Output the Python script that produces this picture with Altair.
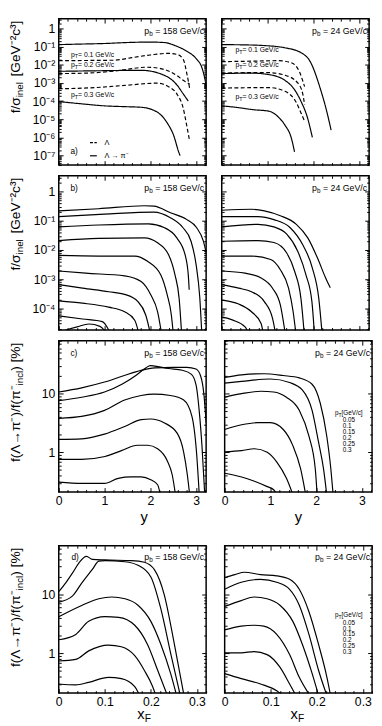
import altair as alt
import pandas as pd

FONT = "Liberation Sans"

# ---------------- a) f/sigma_inel, p_b = 158 GeV/c (S: Lambda->pi-, D: Lambda) ----
A158_S1_X = [0, 0.5, 1.0, 1.5, 2.0, 2.3, 2.58, 2.8, 3.01, 3.12, 3.19, 3.23]
A158_S1_F = [0.13, 0.14, 0.15, 0.17, 0.18, 0.17, 0.105, 0.056, 0.021, 0.0079, 0.0018, 5e-4]
A158_S2_X = [0, 0.8, 1.8, 2.3, 2.58, 2.72, 2.83]
A158_S2_F = [0.0044, 0.0047, 0.005, 0.0027, 7.9e-4, 2.5e-4, 1e-4]
A158_S3_X = [0, 0.5, 1.0, 1.4, 1.8, 2.15, 2.37, 2.51, 2.62, 2.65]
A158_S3_F = [9.5e-5, 7.1e-5, 5.5e-5, 5e-5, 4.6e-5, 2.5e-5, 6.3e-6, 1.3e-6, 1.6e-7, 1e-7]
A158_D1_X = [0, 0.6, 1.2, 1.6, 2.0, 2.37, 2.58, 2.72, 2.8, 2.86]
A158_D1_F = [0.017, 0.0174, 0.018, 0.025, 0.035, 0.043, 0.038, 0.02, 0.0032, 5e-4]
A158_D2_X = [0, 0.6, 1.2, 1.94, 2.3, 2.58, 2.72, 2.86]
A158_D2_F = [0.0033, 0.0035, 0.0045, 0.0074, 0.0056, 0.0026, 0.0014, 8.9e-4]
A158_D3_X = [0, 0.8, 1.5, 2.15, 2.4, 2.58, 2.72, 2.8, 2.86]
A158_D3_F = [4.8e-4, 5.6e-4, 7.6e-4, 9.8e-4, 6.3e-4, 2.5e-4, 4e-5, 4e-6, 6.3e-7]

# ---------------- a) p_b = 24 GeV/c ----
A24_S1_X = [0, 0.5, 0.89, 1.38, 1.73, 1.94, 2.15, 2.29, 2.39]
A24_S1_F = [0.13, 0.126, 0.117, 0.087, 0.047, 0.014, 5.2e-4, 3e-5, 2.5e-6]
A24_S2_X = [0, 0.65, 1.03, 1.38, 1.59, 1.73, 1.87, 1.98]
A24_S2_F = [0.0033, 0.0035, 0.0029, 0.0014, 4.3e-4, 1e-4, 1.3e-5, 1e-6]
A24_S3_X = [0, 0.33, 0.68, 1.03, 1.24, 1.38, 1.52, 1.59]
A24_S3_F = [5.5e-5, 4.5e-5, 3.4e-5, 2.8e-5, 1.3e-5, 4.8e-6, 9.3e-7, 1.6e-7]
A24_D1_X = [0, 0.7, 1.24, 1.52, 1.7, 1.77, 1.81]
A24_D1_F = [0.015, 0.016, 0.017, 0.013, 0.004, 0.0013, 6.3e-4]
A24_D2_X = [0, 0.6, 1.03, 1.38, 1.66, 1.77, 1.81]
A24_D2_F = [0.0035, 0.0037, 0.0037, 0.0027, 0.001, 2.5e-4, 6.3e-5]
A24_D3_X = [0, 0.6, 1.03, 1.38, 1.63, 1.74, 1.81]
A24_D3_F = [5.2e-4, 5.5e-4, 5.6e-4, 3.5e-4, 8.3e-5, 2e-5, 7.9e-6]

# ---------------- b) f/sigma_inel per pT, 158 GeV/c ----
B158_1_X = [0, 0.87, 1.87, 2.08, 2.44, 2.8, 3.01, 3.16, 3.23]
B158_1_F = [0.22, 0.26, 0.33, 0.32, 0.19, 0.11, 0.059, 0.02, 0.0069]
B158_2_X = [0, 1.0, 2.08, 2.43, 2.71, 2.89, 3.0, 3.08, 3.13]
B158_2_F = [0.14, 0.17, 0.2, 0.13, 0.059, 0.02, 0.0032, 2.5e-4, 1e-5]
B158_3_X = [0, 0.87, 1.96, 2.3, 2.58, 2.76, 2.83, 2.85]
B158_3_F = [0.062, 0.072, 0.079, 0.059, 0.026, 0.0069, 0.0014, 4.3e-4]
B158_4_X = [0, 0.87, 1.87, 2.15, 2.4, 2.54, 2.63, 2.69]
B158_4_F = [0.021, 0.025, 0.026, 0.018, 0.0069, 0.0014, 2.2e-4, 1e-5]
B158_5_X = [0, 0.87, 1.66, 1.94, 2.23, 2.37, 2.46, 2.51]
B158_5_F = [0.0065, 0.0062, 0.0062, 0.0041, 0.0014, 2.9e-4, 5.9e-5, 1e-5]
B158_6_X = [0, 0.59, 1.44, 1.8, 2.01, 2.16, 2.26]
B158_6_F = [0.0019, 0.0016, 0.0013, 8.3e-4, 2.9e-4, 7.6e-5, 1e-5]
B158_7_X = [0, 0.52, 1.09, 1.44, 1.73, 1.9, 2.02]
B158_7_F = [6.5e-4, 4.9e-4, 3.7e-4, 3e-4, 1.7e-4, 5.9e-5, 1e-5]
B158_8_X = [0, 0.52, 1.09, 1.44, 1.66, 1.77]
B158_8_F = [1.8e-4, 1.5e-4, 1.1e-4, 7.6e-5, 3.9e-5, 1e-5]
B158_9_X = [0, 0.52, 0.95, 1.17]
B158_9_F = [5.5e-5, 4.3e-5, 3.5e-5, 1e-5]
B158_10_X = [0, 0.4, 0.66, 0.9, 1.08]
B158_10_F = [1.5e-5, 2.3e-5, 2.9e-5, 2.4e-5, 1.2e-5]

# ---------------- b) 24 GeV/c ----
B24_1_X = [0, 0.65, 0.93, 1.28, 1.63, 1.88, 2.09, 2.27, 2.37]
B24_1_F = [0.23, 0.25, 0.22, 0.15, 0.076, 0.026, 0.0054, 0.0011, 5.1e-4]
B24_2_X = [0, 0.79, 1.14, 1.49, 1.77, 1.98, 2.12, 2.2]
B24_2_F = [0.14, 0.14, 0.11, 0.059, 0.015, 0.0024, 2.2e-4, 1e-5]
B24_3_X = [0, 0.79, 1.14, 1.42, 1.66, 1.84, 1.97, 2.03]
B24_3_F = [0.062, 0.076, 0.062, 0.035, 0.0091, 0.0014, 1.7e-4, 1e-5]
B24_4_X = [0, 0.79, 1.14, 1.42, 1.59, 1.73, 1.81]
B24_4_F = [0.02, 0.021, 0.018, 0.0079, 0.0019, 2.2e-4, 1e-5]
B24_5_X = [0, 0.65, 1.07, 1.28, 1.46, 1.56, 1.63]
B24_5_F = [0.0062, 0.0062, 0.0047, 0.0021, 4.9e-4, 7.6e-5, 1e-5]
B24_6_X = [0, 0.51, 0.86, 1.11, 1.28, 1.4]
B24_6_F = [0.0019, 0.0016, 0.0011, 4.9e-4, 1.3e-4, 1e-5]
B24_7_X = [0, 0.37, 0.65, 0.93, 1.11, 1.19]
B24_7_F = [6.5e-4, 4.9e-4, 3.7e-4, 1.7e-4, 4.5e-5, 1e-5]
B24_8_X = [0, 0.37, 0.65, 0.86, 0.92]
B24_8_F = [1.9e-4, 1.4e-4, 7.6e-5, 3e-5, 1e-5]
B24_9_X = [0, 0.23, 0.51, 0.62]
B24_9_F = [5.1e-5, 4e-5, 2.3e-5, 1e-5]

# ---------------- c) ratio [%] vs y, 158 GeV/c ----
C158_1_X = [0, 0.5, 1.0, 1.4, 1.8, 2.1, 2.5, 2.8, 3.0, 3.1, 3.17, 3.22]
C158_1_R = [10.7, 12.6, 15.8, 20, 25, 27.5, 28.2, 28.2, 26.3, 20, 10, 3.2]
C158_2_X = [0, 0.5, 1.0, 1.4, 1.7, 1.9, 2.0, 2.1, 2.4, 2.7, 2.9, 3.0, 3.07, 3.13, 3.19]
C158_2_R = [7.6, 8.7, 10.7, 14.8, 20.9, 27.5, 30.2, 29.5, 26.9, 25.1, 21.4, 14.1, 5.0, 1.26, 0.19]
C158_3_X = [0, 0.5, 1.0, 1.44, 1.8, 2.08, 2.44, 2.73, 2.91, 3.01, 3.07]
C158_3_R = [3.8, 4.1, 5.2, 7.8, 9.3, 9.8, 9.3, 7.8, 4.1, 1.0, 0.19]
C158_4_X = [0, 0.5, 1.0, 1.44, 1.8, 2.01, 2.3, 2.59, 2.73, 2.81, 2.86]
C158_4_R = [1.66, 1.7, 2.04, 2.75, 3.6, 3.7, 3.2, 2.1, 1.0, 0.41, 0.19]
C158_5_X = [0, 0.5, 1.01, 1.37, 1.72, 1.94, 2.16, 2.37, 2.48, 2.55]
C158_5_R = [0.76, 0.76, 0.85, 1.07, 1.32, 1.32, 1.15, 0.72, 0.41, 0.19]
C158_6_X = [0, 0.5, 1.0, 1.3, 1.58, 1.8, 2.01, 2.16, 2.22]
C158_6_R = [0.31, 0.295, 0.295, 0.36, 0.38, 0.38, 0.34, 0.28, 0.19]

# ---------------- c) 24 GeV/c ----
C24_1_X = [0, 0.37, 0.86, 1.28, 1.63, 1.91, 2.09, 2.23, 2.32, 2.37]
C24_1_R = [19, 21, 21.9, 20.4, 18.6, 14.5, 6.8, 1.9, 0.52, 0.19]
C24_2_X = [0, 0.37, 1.0, 1.42, 1.7, 1.91, 2.05, 2.16, 2.23]
C24_2_R = [15.1, 16.2, 17.8, 15.5, 11.5, 5.2, 1.5, 0.52, 0.19]
C24_3_X = [0, 0.37, 0.79, 1.07, 1.35, 1.63, 1.84, 1.98, 2.02]
C24_3_R = [8.7, 10, 11, 10.7, 8.7, 5.2, 1.9, 0.52, 0.19]
C24_4_X = [0, 0.37, 0.72, 1.0, 1.28, 1.49, 1.66, 1.77]
C24_4_R = [2.45, 2.95, 3.2, 3.2, 2.45, 1.3, 0.52, 0.19]
C24_5_X = [0, 0.37, 0.65, 0.93, 1.14, 1.35, 1.49]
C24_5_R = [1.02, 1.07, 1.15, 1.0, 0.68, 0.36, 0.19]
C24_6_X = [0, 0.37, 0.65, 0.93, 1.07, 1.14]
C24_6_R = [0.44, 0.38, 0.32, 0.26, 0.23, 0.19]

# ---------------- d) ratio [%] vs xF, 158 GeV/c ----
D158_1_X = [0, 0.016, 0.03, 0.044, 0.06, 0.073, 0.1, 0.158, 0.186, 0.208, 0.229, 0.25, 0.272]
D158_1_R = [11.2, 16.2, 23.4, 34.7, 44.7, 39.8, 38.9, 38, 35.5, 26.3, 10, 1.58, 0.19]
D158_2_X = [0, 0.03, 0.051, 0.073, 0.087, 0.1, 0.144, 0.172, 0.2, 0.222, 0.243, 0.264]
D158_2_R = [7.4, 9.5, 16.2, 26.9, 37.2, 38, 36.3, 31.6, 20, 5.6, 1.0, 0.19]
D158_3_X = [0, 0.051, 0.087, 0.115, 0.144, 0.172, 0.2, 0.222, 0.243, 0.256]
D158_3_R = [4.2, 6.6, 8.5, 9.1, 8.5, 6.6, 3.5, 1.4, 0.45, 0.19]
D158_4_X = [0, 0.037, 0.065, 0.1, 0.13, 0.165, 0.193, 0.215, 0.236]
D158_4_R = [1.7, 2.1, 3.5, 4.2, 4.1, 3.0, 1.4, 0.51, 0.19]
D158_5_X = [0, 0.037, 0.065, 0.108, 0.136, 0.165, 0.186, 0.204, 0.211]
D158_5_R = [0.74, 0.79, 1.1, 1.38, 1.29, 0.91, 0.51, 0.27, 0.19]
D158_6_X = [0, 0.037, 0.065, 0.108, 0.136, 0.165, 0.176]
D158_6_R = [0.30, 0.29, 0.32, 0.39, 0.37, 0.27, 0.19]

# ---------------- d) 24 GeV/c ----
D24_1_X = [0, 0.022, 0.043, 0.078, 0.113, 0.141, 0.162, 0.183, 0.204, 0.222, 0.23]
D24_1_R = [19.5, 21.9, 24, 21.9, 20.9, 18.2, 12.3, 5.1, 1.4, 0.39, 0.19]
D24_2_X = [0, 0.036, 0.078, 0.113, 0.141, 0.162, 0.183, 0.204, 0.222]
D24_2_R = [12.3, 16.2, 18.2, 16.2, 12.3, 6.6, 2.1, 0.51, 0.19]
D24_3_X = [0, 0.036, 0.064, 0.092, 0.12, 0.148, 0.169, 0.19, 0.204]
D24_3_R = [6.3, 7.9, 9.1, 8.5, 6.6, 3.5, 1.4, 0.45, 0.19]
D24_4_X = [0, 0.036, 0.064, 0.085, 0.113, 0.141, 0.162, 0.185]
D24_4_R = [2.5, 2.9, 3.0, 2.9, 2.1, 0.95, 0.39, 0.19]
D24_5_X = [0, 0.036, 0.064, 0.092, 0.12, 0.141, 0.155]
D24_5_R = [1.02, 1.02, 1.07, 0.95, 0.58, 0.30, 0.19]
D24_6_X = [0, 0.036, 0.078, 0.113, 0.127]
D24_6_R = [0.45, 0.37, 0.30, 0.23, 0.19]

PT_VALUES = ["0.05", "0.1", "0.15", "0.2", "0.25", "0.3"]
PT_A_LABELS = [" = 0.1 GeV/c", " = 0.2 GeV/c", " = 0.3 GeV/c"]

# ---------------- layout constants ----------------
W = 151
HA, HB, HC, HD = 150, 158, 155, 151
XDOM_Y = [0, 3.22]
XDOM_F = [0, 0.32]
YDOM_A = [3e-8, 3.5]
YDOM_B = [1.8e-5, 3.5]
YDOM_C = [0.21, 80]
YDOM_D = [0.21, 68]
TMAJ, TMIN = 4.5, 2.5

AW = {" ": 278, "=": 584, ".": 278, "/": 278, "(": 333, ")": 333, "[": 278, "]": 278,
      "%": 889, "-": 333, "a": 556, "b": 556, "c": 500, "e": 556, "f": 278, "i": 222,
      "l": 222, "n": 556, "p": 556, "x": 500, "y": 500, "F": 611, "G": 778, "T": 611,
      "V": 667, "\u039b": 667, "\u03c0": 570, "\u03c3": 570, "\u2192": 1000, "\u207b": 500,
      "\u00b2": 333, "\u00b3": 333}


def tw(s, fs):
    return sum(AW.get(ch, 556) for ch in s) / 1000.0 * fs


def line_df(curves):
    rows = []
    for name, style, xs, fs in curves:
        for i, (x, f) in enumerate(zip(xs, fs)):
            rows.append({"x": x, "f": f, "c": name, "s": style, "o": i})
    return pd.DataFrame(rows)


def log_minor(dom):
    out = []
    for k in range(-9, 3):
        for m in range(2, 10):
            v = float(f"{m}e{k}")
            if dom[0] <= v <= dom[1]:
                out.append(v)
    return out


def lin_minor(step, dom, majors):
    out = []
    i = 1
    while True:
        v = round(i * step, 4)
        if v > dom[1] + 1e-9:
            break
        if all(abs(v - m) > 1e-6 for m in majors):
            out.append(v)
        i += 1
    return out


def ax(orient, values, major, **kw):
    size = TMAJ if major else TMIN
    base = dict(orient=orient, values=values, tickSize=size, offset=-size, domain=False,
                grid=False, ticks=True, tickColor="black", tickWidth=1, title=None)
    if "labels" not in kw:
        base["labels"] = False
    base.update(kw)
    return alt.Axis(**base)


def text_layer(rows, align):
    df = pd.DataFrame(rows, columns=["px", "py", "t", "fs", "ang"])
    return alt.Chart(df).mark_text(align=align, baseline="alphabetic", font=FONT,
                                   color="black").encode(
        x=alt.X("px:Q", scale=None, axis=None),
        y=alt.Y("py:Q", scale=None, axis=None),
        text=alt.Text("t:N"),
        size=alt.Size("fs:Q", scale=None, legend=None),
        angle=alt.Angle("ang:Q", scale=None, legend=None),
    )


def seg_layer(x1, x2, y, dash=None):
    df = pd.DataFrame({"a": [x1], "b": [x2], "c": [y]})
    kw = dict(color="black", strokeWidth=1.2)
    if dash:
        kw["strokeDash"] = dash
    return alt.Chart(df).mark_rule(**kw).encode(
        x=alt.X("a:Q", scale=None, axis=None), x2="b:Q",
        y=alt.Y("c:Q", scale=None, axis=None))


def pb_label(rows_r, text, yb=15.5):
    xr, fs, fsub = W - 2, 9, 6.5
    w3 = tw(text, fs)
    w2 = tw("b", fsub)
    rows_r += [(xr, yb, text, fs, 0), (xr - w3, yb + 2.2, "b", fsub, 0),
               (xr - w3 - w2, yb, "p", fs, 0)]


def pt_label(rows_l, x, yb, text, fs=7, fsub=5.5):
    w1 = tw("p", fs)
    w2 = tw("T", fsub)
    rows_l += [(x, yb, "p", fs, 0), (x + w1, yb + 1.8, "T", fsub, 0),
               (x + w1 + w2, yb, text, fs, 0)]


def y_title(rows_r, p1, p2, p3, xb=-40, ytop=2, fs=14, fsub=10):
    w3 = tw(p3, fs)
    w2 = tw(p2, fsub)
    rows_r += [(xb, ytop, p3, fs, 270), (xb + 3.5, ytop + w3, p2, fsub, 270),
               (xb, ytop + w3 + w2, p1, fs, 270)]


def xf_title(rows_l, cx, yb):
    w1 = tw("x", 15)
    w2 = tw("F", 10.5)
    x0 = cx - (w1 + w2) / 2
    rows_l += [(x0, yb, "x", 15, 0), (x0 + w1, yb + 2.8, "F", 10.5, 0)]


def pt_legend(rows_l, y0):
    pt_label(rows_l, 113, y0, " [GeV/c]", fs=6.5, fsub=5)
    for k, s in enumerate(PT_VALUES):
        rows_l.append((121, y0 + 7.5 + 6 * k, s, 6.5, 0))


LAB_EXP_POW = ("datum.value > 0.5 ? '1' : '10' + ['\u207b\u00b9','\u207b\u00b2','\u207b\u00b3',"
               "'\u207b\u2074','\u207b\u2075','\u207b\u2076','\u207b\u2077','\u207b\u2078']"
               "[round(-log(datum.value)/LN10) - 1]")
LAB_EXP_LIN = "datum.value > 5 ? '10' : '1'"


def panel(df, H, xdom, ydom, xmaj, xmin, ymaj, xlab, ylab, ylabexpr,
          rows_l, rows_r, rows_c, segs, dashed=False):
    xs = alt.Scale(domain=xdom, nice=False, zero=False)
    ys = alt.Scale(type="log", domain=ydom, nice=False)
    ymin = log_minor(ydom)
    xkw = dict(labels=True, labelFont=FONT, labelFontSize=12.5, labelColor="black",
               labelPadding=3, labelFlush=False, labelOverlap=False, format=".1~f") if xlab else {}
    ykw = dict(labels=True, labelFont=FONT, labelFontSize=12.5, labelColor="black",
               labelPadding=4, labelOverlap=False, labelExpr=ylabexpr) if ylab else {}
    extra = {}
    if dashed:
        extra["strokeDash"] = alt.StrokeDash(
            "s:N", scale=alt.Scale(domain=["solid", "dashed"], range=[[1, 0], [4, 2.5]]),
            legend=None)
    main = alt.Chart(df).mark_line(clip=True, color="black", strokeWidth=1.2,
                                   interpolate="monotone").encode(
        x=alt.X("x:Q", scale=xs, axis=ax("bottom", xmaj, True, **xkw)),
        y=alt.Y("f:Q", scale=ys, axis=ax("left", ymaj, True, **ykw)),
        detail="c:N", order="o:Q", **extra)

    def ghost(xo, yo, major, xv, yv):
        return alt.Chart(df).mark_line(opacity=0, clip=True).encode(
            x=alt.X("x:Q", scale=xs, axis=ax(xo, xv, major)),
            y=alt.Y("f:Q", scale=ys, axis=ax(yo, yv, major)),
            detail="c:N")

    layers = [main,
              ghost("top", "right", True, xmaj, ymaj),
              ghost("bottom", "left", False, xmin, ymin),
              ghost("top", "right", False, xmin, ymin)]
    for s in segs:
        layers.append(seg_layer(*s))
    if rows_l:
        layers.append(text_layer(rows_l, "left"))
    if rows_r:
        layers.append(text_layer(rows_r, "right"))
    if rows_c:
        layers.append(text_layer(rows_c, "center"))
    return alt.layer(*layers).resolve_axis(x="independent", y="independent").properties(
        width=W, height=H)


XMAJ_Y = [0, 1, 2, 3]
XMIN_Y = lin_minor(0.2, XDOM_Y, XMAJ_Y)
XMAJ_F = [0, 0.1, 0.2, 0.3]
XMIN_F = lin_minor(0.02, XDOM_F, XMAJ_F)
YMAJ_A = [1e-7, 1e-6, 1e-5, 1e-4, 1e-3, 1e-2, 1e-1, 1]
YMAJ_B = [1e-4, 1e-3, 1e-2, 1e-1, 1]
YMAJ_CD = [1, 10]

T_F1, T_F2, T_F3 = "f/\u03c3", "inel", " [GeV\u207b\u00b2c\u00b3]"
T_R1, T_R2, T_R3 = "f(\u039b\u2192\u03c0\u207b)/f(\u03c0\u207b", "incl", ") [%]"

# ---------------- row a ----------------
dfa1 = line_df([("s1", "solid", A158_S1_X, A158_S1_F), ("s2", "solid", A158_S2_X, A158_S2_F),
                ("s3", "solid", A158_S3_X, A158_S3_F), ("d1", "dashed", A158_D1_X, A158_D1_F),
                ("d2", "dashed", A158_D2_X, A158_D2_F), ("d3", "dashed", A158_D3_X, A158_D3_F)])
la, ra = [], []
pb_label(ra, " = 158 GeV/c")
for yb, t in zip([39, 50, 80.5], PT_A_LABELS):
    pt_label(la, 12.5, yb, t)
la += [(12, HA - 11.5, "a)", 8.5, 0), (47, HA - 20.5, "\u039b", 7.5, 0),
       (47, HA - 7, "\u039b \u2192 \u03c0\u207b", 7.5, 0)]
y_title(ra, T_F1, T_F2, T_F3)
pa1 = panel(dfa1, HA, XDOM_Y, YDOM_A, XMAJ_Y, XMIN_Y, YMAJ_A, False, True, LAB_EXP_POW,
            la, ra, [], [(32, 39, HA - 23, [3, 1.5]), (32, 39, HA - 9.5, None)], dashed=True)

dfa2 = line_df([("s1", "solid", A24_S1_X, A24_S1_F), ("s2", "solid", A24_S2_X, A24_S2_F),
                ("s3", "solid", A24_S3_X, A24_S3_F), ("d1", "dashed", A24_D1_X, A24_D1_F),
                ("d2", "dashed", A24_D2_X, A24_D2_F), ("d3", "dashed", A24_D3_X, A24_D3_F)])
la, ra = [], []
pb_label(ra, " = 24 GeV/c")
for yb, t in zip([34, 50, 82.5], PT_A_LABELS):
    pt_label(la, 14, yb, t)
pa2 = panel(dfa2, HA, XDOM_Y, YDOM_A, XMAJ_Y, XMIN_Y, YMAJ_A, False, False, LAB_EXP_POW,
            la, ra, [], [], dashed=True)

# ---------------- row b ----------------
dfb1 = line_df([(f"c{i}", "solid", x, f) for i, (x, f) in enumerate([
    (B158_1_X, B158_1_F), (B158_2_X, B158_2_F), (B158_3_X, B158_3_F), (B158_4_X, B158_4_F),
    (B158_5_X, B158_5_F), (B158_6_X, B158_6_F), (B158_7_X, B158_7_F), (B158_8_X, B158_8_F),
    (B158_9_X, B158_9_F), (B158_10_X, B158_10_F)])])
la, ra = [(12, 16, "b)", 8.5, 0)], []
pb_label(ra, " = 158 GeV/c")
y_title(ra, T_F1, T_F2, T_F3)
pb1 = panel(dfb1, HB, XDOM_Y, YDOM_B, XMAJ_Y, XMIN_Y, YMAJ_B, False, True, LAB_EXP_POW,
            la, ra, [], [])

dfb2 = line_df([(f"c{i}", "solid", x, f) for i, (x, f) in enumerate([
    (B24_1_X, B24_1_F), (B24_2_X, B24_2_F), (B24_3_X, B24_3_F), (B24_4_X, B24_4_F),
    (B24_5_X, B24_5_F), (B24_6_X, B24_6_F), (B24_7_X, B24_7_F), (B24_8_X, B24_8_F),
    (B24_9_X, B24_9_F)])])
ra = []
pb_label(ra, " = 24 GeV/c")
pb2 = panel(dfb2, HB, XDOM_Y, YDOM_B, XMAJ_Y, XMIN_Y, YMAJ_B, False, False, LAB_EXP_POW,
            [], ra, [], [])

# ---------------- row c ----------------
dfc1 = line_df([(f"c{i}", "solid", x, f) for i, (x, f) in enumerate([
    (C158_1_X, C158_1_R), (C158_2_X, C158_2_R), (C158_3_X, C158_3_R),
    (C158_4_X, C158_4_R), (C158_5_X, C158_5_R), (C158_6_X, C158_6_R)])])
la, ra = [(12, 16, "c)", 8.5, 0)], []
pb_label(ra, " = 158 GeV/c")
y_title(ra, T_R1, T_R2, T_R3)
pc1 = panel(dfc1, HC, XDOM_Y, YDOM_C, XMAJ_Y, XMIN_Y, YMAJ_CD, True, True, LAB_EXP_LIN,
            la, ra, [(87.5, HC + 31, "y", 15, 0)], [])

dfc2 = line_df([(f"c{i}", "solid", x, f) for i, (x, f) in enumerate([
    (C24_1_X, C24_1_R), (C24_2_X, C24_2_R), (C24_3_X, C24_3_R),
    (C24_4_X, C24_4_R), (C24_5_X, C24_5_R), (C24_6_X, C24_6_R)])])
la, ra = [], []
pb_label(ra, " = 24 GeV/c")
pt_legend(la, 76)
pc2 = panel(dfc2, HC, XDOM_Y, YDOM_C, XMAJ_Y, XMIN_Y, YMAJ_CD, True, False, LAB_EXP_LIN,
            la, ra, [(W / 2, HC + 31, "y", 15, 0)], [])

# ---------------- row d ----------------
dfd1 = line_df([(f"c{i}", "solid", x, f) for i, (x, f) in enumerate([
    (D158_1_X, D158_1_R), (D158_2_X, D158_2_R), (D158_3_X, D158_3_R),
    (D158_4_X, D158_4_R), (D158_5_X, D158_5_R), (D158_6_X, D158_6_R)])])
la, ra = [(13, 14.5, "d)", 8.5, 0)], []
pb_label(ra, " = 158 GeV/c", yb=14.5)
y_title(ra, T_R1, T_R2, T_R3)
xf_title(la, 87.5, HD + 27)
pd1 = panel(dfd1, HD, XDOM_F, YDOM_D, XMAJ_F, XMIN_F, YMAJ_CD, True, True, LAB_EXP_LIN,
            la, ra, [], [])

dfd2 = line_df([(f"c{i}", "solid", x, f) for i, (x, f) in enumerate([
    (D24_1_X, D24_1_R), (D24_2_X, D24_2_R), (D24_3_X, D24_3_R),
    (D24_4_X, D24_4_R), (D24_5_X, D24_5_R), (D24_6_X, D24_6_R)])])
la, ra = [], []
pb_label(ra, " = 24 GeV/c", yb=14.5)
pt_legend(la, 73.5)
xf_title(la, W / 2 - 1, HD + 27)
pd2 = panel(dfd2, HD, XDOM_F, YDOM_D, XMAJ_F, XMIN_F, YMAJ_CD, True, False, LAB_EXP_LIN,
            la, ra, [], [])

rowA = alt.hconcat(pa1, pa2, spacing=12)
rowB = alt.hconcat(pb1, pb2, spacing=12)
rowC = alt.hconcat(pc1, pc2, spacing=12)
rowD = alt.hconcat(pd1, pd2, spacing=12)

top = alt.vconcat(alt.vconcat(rowA, rowB, rowC, spacing=7), rowD, spacing=18)
chart = top.configure_view(stroke="black", strokeWidth=1.5).properties(
    padding=0, background="white")

chart.save("out.html", embed_options={"renderer": "svg", "actions": False})
